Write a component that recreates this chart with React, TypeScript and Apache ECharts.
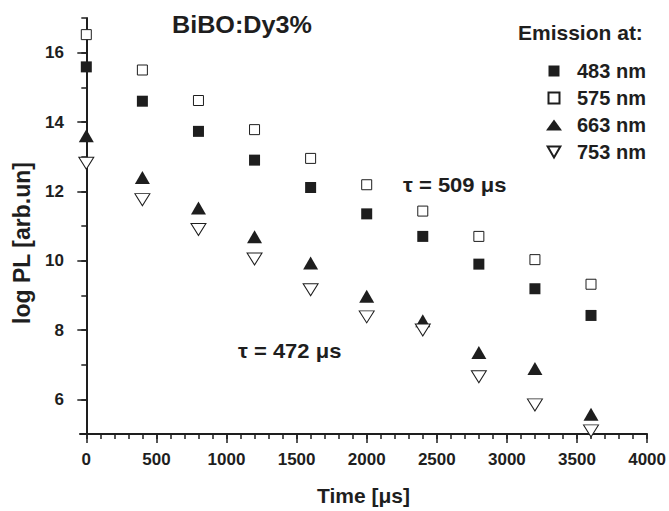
import React, { useEffect, useRef } from "react";
import * as echarts from "echarts";

const times = [0, 400, 800, 1200, 1600, 2000, 2400, 2800, 3200, 3600];
const pl483 = [15.59, 14.6, 13.73, 12.9, 12.11, 11.35, 10.7, 9.9, 9.19, 8.42];
const pl575 = [16.52, 15.5, 14.62, 13.78, 12.95, 12.19, 11.43, 10.7, 10.03, 9.32];
const pl663 = [13.6, 12.4, 11.52, 10.69, 9.93, 8.97, 8.27, 7.35, 6.89, 5.57];
const pl753 = [12.81, 11.76, 10.9, 10.05, 9.16, 8.38, 8.0, 6.65, 5.84, 5.09];

const xMajorTicks = [0, 500, 1000, 1500, 2000, 2500, 3000, 3500, 4000];
const xMinorTicks = [0, 100, 200, 300, 400, 500, 600, 700, 800, 900, 1000, 1100, 1200, 1300, 1400, 1500, 1600, 1700, 1800, 1900, 2000, 2100, 2200, 2300, 2400, 2500, 2600, 2700, 2800, 2900, 3000, 3100, 3200, 3300, 3400, 3500, 3600, 3700, 3800, 3900, 4000];
const yMajorTicks = [6, 8, 10, 12, 14, 16];

const FONT = "'Liberation Sans', Arial, Helvetica, sans-serif";
const INK = "#1e1e1e";

const SQUARE = "path://M0,0L10,0L10,10L0,10Z";
const TRI_UP = "path://M8,0L16,11L0,11Z";
const TRI_DOWN = "path://M0,0L15,0L7.5,13Z";

const pairs = (ys: number[]) => times.map((t, i) => [t, ys[i]]);

export default function App() {
  const ref = useRef<HTMLDivElement>(null);
  useEffect(() => {
    if (!ref.current) return;
    const chart = echarts.init(ref.current, undefined, { renderer: "svg" });
    const txt = { fontFamily: FONT, fontWeight: "bold" as const, color: INK };
    const label = (t: string, x: number, y: number, size: number, sx = 1) => ({
      type: "text",
      x,
      y,
      scaleX: sx,
      style: { text: t, fontSize: size, fontFamily: FONT, fontWeight: "bold", fill: INK, align: "left", verticalAlign: "middle" },
    });
    chart.setOption({
      animation: false,
      backgroundColor: "#ffffff",
      grid: { left: 80, right: 19, top: 18, bottom: 72 },
      xAxis: [
        {
          type: "value",
          min: -45,
          max: 4000,
          position: "bottom",
          axisLine: { lineStyle: { color: INK, width: 2 } },
          axisTick: { customValues: xMajorTicks, length: 9, lineStyle: { color: INK, width: 1.5 } },
          axisLabel: { customValues: xMajorTicks, margin: 17, fontSize: 17, ...txt, formatter: (v: number) => String(v) },
          splitLine: { show: false },
          name: "Time [μs]",
          nameLocation: "middle",
          nameGap: 51,
          nameTextStyle: { fontSize: 21, ...txt },
        },
        {
          type: "value",
          min: -45,
          max: 4000,
          position: "bottom",
          axisLine: { show: false },
          axisTick: { customValues: xMinorTicks, length: 5, lineStyle: { color: INK, width: 1.5 } },
          axisLabel: { show: false },
          splitLine: { show: false },
        },
      ],
      yAxis: [
        {
          type: "value",
          min: 5,
          max: 17,
          position: "left",
          axisLine: { show: true, lineStyle: { color: INK, width: 2 } },
          axisTick: { show: true, customValues: yMajorTicks, length: 9, lineStyle: { color: INK, width: 1.5 } },
          axisLabel: { customValues: yMajorTicks, margin: 16, fontSize: 17, ...txt },
          splitLine: { show: false },
        },
        {
          type: "value",
          min: 5,
          max: 17,
          interval: 1,
          position: "left",
          axisLine: { show: false },
          axisTick: { show: true, length: 5, lineStyle: { color: INK, width: 1.5 } },
          axisLabel: { show: false },
          splitLine: { show: false },
        },
      ],
      legend: {
        orient: "vertical",
        left: 541,
        top: 56,
        itemWidth: 16,
        itemHeight: 11,
        itemGap: 7,
        symbolKeepAspect: true,
        textStyle: { fontSize: 20, ...txt, padding: [0, 0, 0, 10] },
        data: ["483 nm", "575 nm", "663 nm", "753 nm"],
      },
      series: [
        {
          name: "483 nm",
          type: "scatter",
          data: pairs(pl483),
          symbol: SQUARE,
          symbolSize: 11,
          itemStyle: { color: INK, opacity: 1 },
        },
        {
          name: "575 nm",
          type: "scatter",
          data: pairs(pl575),
          symbol: SQUARE,
          symbolSize: 10,
          itemStyle: { color: "#ffffff", borderColor: INK, borderWidth: 1, opacity: 1 },
        },
        {
          name: "663 nm",
          type: "scatter",
          data: pairs(pl663),
          symbol: TRI_UP,
          symbolSize: [15, 13],
          itemStyle: { color: INK, opacity: 1 },
        },
        {
          name: "753 nm",
          type: "scatter",
          data: pairs(pl753),
          symbol: TRI_DOWN,
          symbolSize: [15, 12],
          itemStyle: { color: "#ffffff", borderColor: INK, borderWidth: 1, opacity: 1 },
        },
      ],
      graphic: [
        label("BiBO:Dy3%", 172, 25, 24, 1.05),
        label("Emission at:", 518, 32, 21),
        label("τ = 509 μs", 403, 185, 20, 1.1),
        label("τ = 472 μs", 238, 351, 20, 1.1),
        {
          type: "text",
          x: 22,
          y: 243,
          rotation: Math.PI / 2,
          style: {
            text: "log PL [arb.un]",
            fontSize: 23,
            fontFamily: FONT,
            fontWeight: "bold",
            fill: INK,
            align: "center",
            verticalAlign: "middle",
          },
        },
      ],
    });
    return () => chart.dispose();
  }, []);
  return <div ref={ref} style={{ width: 669, height: 511, position: "absolute", left: 0, top: 0 }} />;
}
